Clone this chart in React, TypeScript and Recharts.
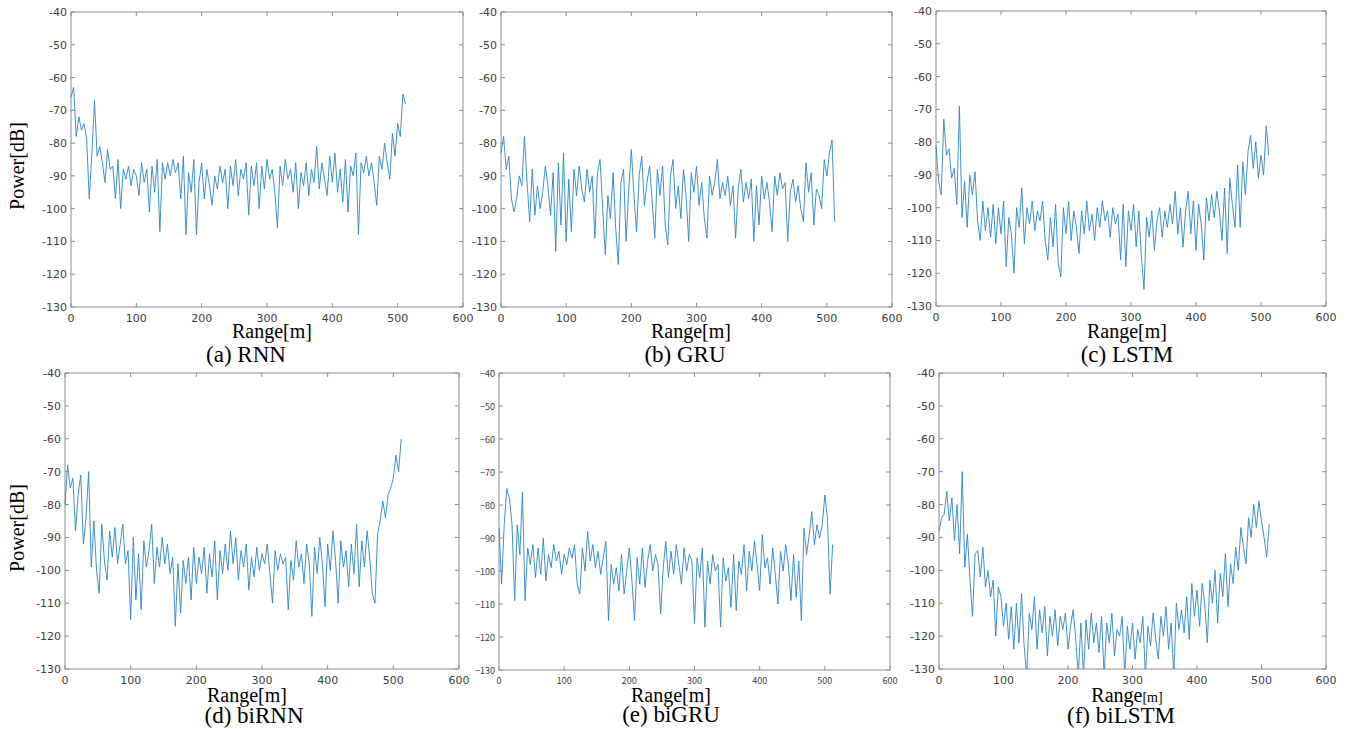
import React from 'react';
import { LineChart, Line, XAxis, YAxis, ReferenceArea } from 'recharts';

// sample grid along range [m]
const RANGE_M = Array.from({ length: 129 }, (_, i) => i * 4);
const X_TICKS = [0, 100, 200, 300, 400, 500, 600];
const Y_TICKS = [-130, -120, -110, -100, -90, -80, -70, -60, -50, -40];

// power [dB], every 4 m
const rnn = [
  -66, -63, -78, -72, -76, -74, -79, -97, -83, -67, -84, -81, -86, -92, -82, -88,
  -87, -97, -85, -100, -88, -91, -87, -93, -88, -90, -96, -86, -92, -88, -101, -87,
  -95, -85, -107, -86, -91, -86, -90, -85, -89, -86, -97, -84, -108, -89, -95, -85,
  -108, -92, -86, -97, -88, -93, -99, -90, -94, -87, -92, -88, -100, -87, -93, -85,
  -96, -88, -91, -86, -102, -87, -93, -86, -100, -87, -94, -85, -91, -88, -95, -106,
  -87, -93, -85, -91, -88, -95, -86, -100, -89, -93, -86, -96, -88, -92, -81, -94,
  -86, -91, -96, -84, -92, -83, -95, -88, -98, -85, -101, -87, -90, -83, -108, -86,
  -89, -84, -90, -86, -92, -99, -84, -88, -80, -86, -91, -77, -84, -74, -78, -65,
  -68,
];

const gru = [
  -83, -78, -88, -84, -97, -101, -97, -90, -93, -78, -92, -104, -88, -102, -93, -100,
  -95, -87, -93, -102, -89, -113, -86, -105, -83, -110, -91, -107, -88, -96, -87, -94,
  -98, -88, -95, -90, -109, -89, -85, -100, -114, -96, -103, -89, -106, -117, -92, -88,
  -110, -94, -82, -96, -107, -90, -84, -99, -92, -87, -98, -109, -88, -96, -87, -105,
  -111, -90, -85, -100, -93, -103, -88, -96, -110, -89, -95, -87, -99, -92, -103, -109,
  -90, -96, -92, -85, -97, -92, -96, -90, -99, -93, -109, -94, -88, -98, -92, -97,
  -91, -110, -93, -105, -90, -97, -92, -98, -107, -90, -96, -89, -94, -92, -110, -95,
  -91, -98, -93, -100, -104, -86, -95, -89, -105, -94, -96, -100, -85, -90, -83, -79,
  -104,
];

const lstm = [
  -81, -92, -96, -73, -84, -82, -91, -88, -99, -69, -103, -92, -106, -90, -96, -89,
  -104, -110, -98, -107, -100, -109, -99, -111, -100, -108, -98, -118, -103, -108, -120, -100,
  -106, -94, -111, -100, -105, -98, -107, -101, -104, -98, -110, -116, -103, -112, -99, -117,
  -121, -100, -108, -98, -110, -101, -106, -114, -101, -108, -98, -107, -102, -110, -100, -106,
  -98, -104, -101, -109, -100, -105, -102, -116, -99, -118, -101, -107, -99, -112, -101, -115,
  -125, -103, -109, -101, -113, -104, -100, -109, -101, -106, -99, -105, -95, -108, -100, -112,
  -101, -95, -108, -98, -113, -99, -105, -116, -97, -104, -96, -103, -95, -101, -110, -94,
  -114, -91, -99, -106, -87, -106, -86, -96, -83, -78, -88, -80, -91, -84, -90, -75,
  -84,
];

const biRnn = [
  -80, -68, -75, -72, -88, -77, -71, -92, -84, -70, -99, -85, -100, -107, -86, -97,
  -103, -88, -96, -87, -98, -92, -86, -98, -94, -115, -90, -109, -95, -112, -91, -99,
  -94, -86, -104, -93, -99, -90, -98, -92, -101, -96, -117, -98, -113, -97, -104, -96,
  -109, -93, -104, -96, -101, -93, -107, -95, -102, -91, -109, -94, -101, -92, -100, -88,
  -98, -90, -103, -94, -99, -92, -106, -96, -102, -93, -100, -95, -98, -92, -101, -110,
  -94, -100, -95, -98, -96, -112, -97, -103, -91, -99, -95, -104, -92, -98, -114, -93,
  -101, -90, -98, -111, -92, -100, -88, -97, -110, -91, -99, -94, -105, -92, -101, -86,
  -105, -91, -99, -88, -96, -107, -110, -89, -85, -79, -84, -77, -75, -72, -65, -70,
  -60,
];

const biGru = [
  -87, -104, -86, -75, -78, -86, -109, -86, -95, -76, -109, -93, -98, -92, -102, -93,
  -101, -90, -103, -95, -99, -92, -97, -94, -101, -95, -98, -93, -96, -92, -104, -107,
  -93, -100, -88, -97, -92, -99, -94, -101, -96, -91, -115, -98, -104, -99, -106, -95,
  -107, -100, -93, -103, -115, -96, -104, -93, -105, -97, -92, -100, -95, -98, -113, -99,
  -91, -102, -94, -101, -92, -98, -104, -93, -100, -95, -97, -116, -96, -102, -93, -117,
  -97, -104, -95, -100, -98, -117, -96, -103, -99, -111, -95, -112, -97, -101, -92, -106,
  -94, -100, -91, -98, -106, -89, -99, -96, -104, -93, -101, -110, -94, -100, -92, -98,
  -109, -95, -108, -97, -115, -87, -95, -89, -82, -92, -86, -90, -86, -77, -84, -107,
  -92,
];

const biLstm = [
  -88, -84, -83, -76, -85, -78, -91, -80, -95, -70, -99, -89, -103, -114, -95, -94,
  -102, -93, -105, -100, -108, -103, -120, -105, -108, -117, -110, -121, -111, -124, -110, -122,
  -107, -123, -132, -113, -118, -108, -124, -112, -119, -111, -126, -114, -120, -112, -123, -114,
  -118, -113, -124, -117, -112, -121, -132, -116, -132, -115, -124, -113, -122, -116, -125, -114,
  -132, -116, -122, -113, -126, -118, -120, -114, -132, -117, -124, -116, -127, -118, -122, -114,
  -132, -117, -123, -113, -121, -127, -114, -120, -111, -124, -116, -132, -110, -118, -112, -119,
  -108, -121, -104, -114, -106, -117, -104, -110, -122, -103, -110, -100, -116, -101, -108, -95,
  -111, -98, -104, -93, -100, -87, -93, -98, -84, -90, -80, -87, -79, -85, -90, -96,
  -86,
];

const LINE = '#2a86c8';
const FRAME = '#8c8c8c';
const TICK_TEXT = '#404040';
const SERIF = '"Liberation Serif", "Times New Roman", serif';

const ML = 60; // space left of plot inside each chart (margin + y axis)
const MT = 10;

type PanelProps = {
  values: number[];
  left: number;
  top: number;
  w: number;
  h: number;
  small?: boolean;
};

const fmt = (v: number, small?: boolean) => (small ? String(v).replace('-', '\u2212') : String(v));

const Panel = ({ values, left, top, w, h, small }: PanelProps) => {
  const data = values.map((v, i) => ({ x: RANGE_M[i], y: v }));
  const tickFont = small
    ? { fontFamily: '"Noto Sans CJK JP", "Noto Sans", sans-serif', fontSize: 9 }
    : { fontFamily: '"DejaVu Sans", sans-serif', fontSize: 11 };

  const xTick = (p: any) => (
    <g>
      <line x1={p.x} y1={p.y} x2={p.x} y2={p.y - 4} stroke={FRAME} />
      <line x1={p.x} y1={p.y - h} x2={p.x} y2={p.y - h + 4} stroke={FRAME} />
      <text x={p.x} y={p.y + (small ? 14 : 15)} textAnchor="middle" fill={TICK_TEXT} {...tickFont}>
        {fmt(p.payload.value, small)}
      </text>
    </g>
  );
  const yTick = (p: any) => (
    <g>
      <line x1={p.x} y1={p.y} x2={p.x + 4} y2={p.y} stroke={FRAME} />
      <line x1={p.x + w} y1={p.y} x2={p.x + w - 4} y2={p.y} stroke={FRAME} />
      <text x={p.x - 4} y={p.y + 4} textAnchor="end" fill={TICK_TEXT} {...tickFont}>
        {fmt(p.payload.value, small)}
      </text>
    </g>
  );

  return (
    <div style={{ position: 'absolute', left: left - ML, top: top - MT }}>
      <LineChart
        width={ML + w + 20}
        height={MT + h + 30}
        data={data}
        margin={{ top: MT, right: 20, bottom: 10, left: 10 }}
      >
        <XAxis
          dataKey="x"
          type="number"
          domain={[0, 600]}
          ticks={X_TICKS}
          interval={0}
          height={20}
          tickSize={0}
          tickMargin={0}
          tickLine={false}
          axisLine={false}
          tick={xTick}
        />
        <YAxis
          type="number"
          domain={[-130, -40]}
          ticks={Y_TICKS}
          interval={0}
          allowDataOverflow
          width={50}
          tickSize={0}
          tickMargin={0}
          tickLine={false}
          axisLine={false}
          tick={yTick}
        />
        <Line
          type="linear"
          dataKey="y"
          stroke={LINE}
          strokeWidth={0.9}
          dot={false}
          isAnimationActive={false}
        />
        <ReferenceArea
          x1={0}
          x2={600}
          y1={-130}
          y2={-40}
          fill="none"
          fillOpacity={0}
          stroke={FRAME}
          strokeWidth={1}
          ifOverflow="visible"
        />
      </LineChart>
    </div>
  );
};

const App = () => {
  return (
    <div style={{ position: 'absolute', left: 0, top: 0, width: 1352, height: 729, background: '#fff' }}>
      <Panel values={rnn} left={71} top={12} w={392} h={295} />
      <Panel values={gru} left={501} top={12} w={391} h={295} />
      <Panel values={lstm} left={936} top={11} w={390} h={295} />
      <Panel values={biRnn} left={65} top={373} w={394} h={296} />
      <Panel values={biGru} left={499} top={373} w={391} h={297} small />
      <Panel values={biLstm} left={939} top={373} w={387} h={296} />
      <svg
        width={1352}
        height={729}
        style={{ position: 'absolute', left: 0, top: 0, pointerEvents: 'none' }}
        fontFamily={SERIF}
        fill="#000"
      >
        <text x={272} y={338} fontSize={20} textAnchor="middle">Range[m]</text>
        <text x={691} y={338} fontSize={20} textAnchor="middle">Range[m]</text>
        <text x={1127} y={338} fontSize={20} textAnchor="middle">Range[m]</text>
        <text x={247} y={702} fontSize={20} textAnchor="middle">Range[m]</text>
        <text x={671} y={702} fontSize={20} textAnchor="middle">Range[m]</text>
        <text x={1127} y={702} fontSize={20} textAnchor="middle">
          Range<tspan fontSize={14}>[m]</tspan>
        </text>

        <text x={246} y={362} fontSize={23} textAnchor="middle">(a) RNN</text>
        <text x={685} y={362} fontSize={23} textAnchor="middle">(b) GRU</text>
        <text x={1127} y={362} fontSize={23} textAnchor="middle">(c) LSTM</text>
        <text x={254} y={723} fontSize={23} textAnchor="middle">(d) biRNN</text>
        <text x={671} y={722} fontSize={23} textAnchor="middle">(e) biGRU</text>
        <text x={1121} y={723} fontSize={23} textAnchor="middle">(f) biLSTM</text>

        <text transform="translate(24,166) rotate(-90)" fontSize={20} textAnchor="middle">Power[dB]</text>
        <text transform="translate(24,528) rotate(-90)" fontSize={20} textAnchor="middle">Power[dB]</text>
      </svg>
    </div>
  );
};

export default App;
